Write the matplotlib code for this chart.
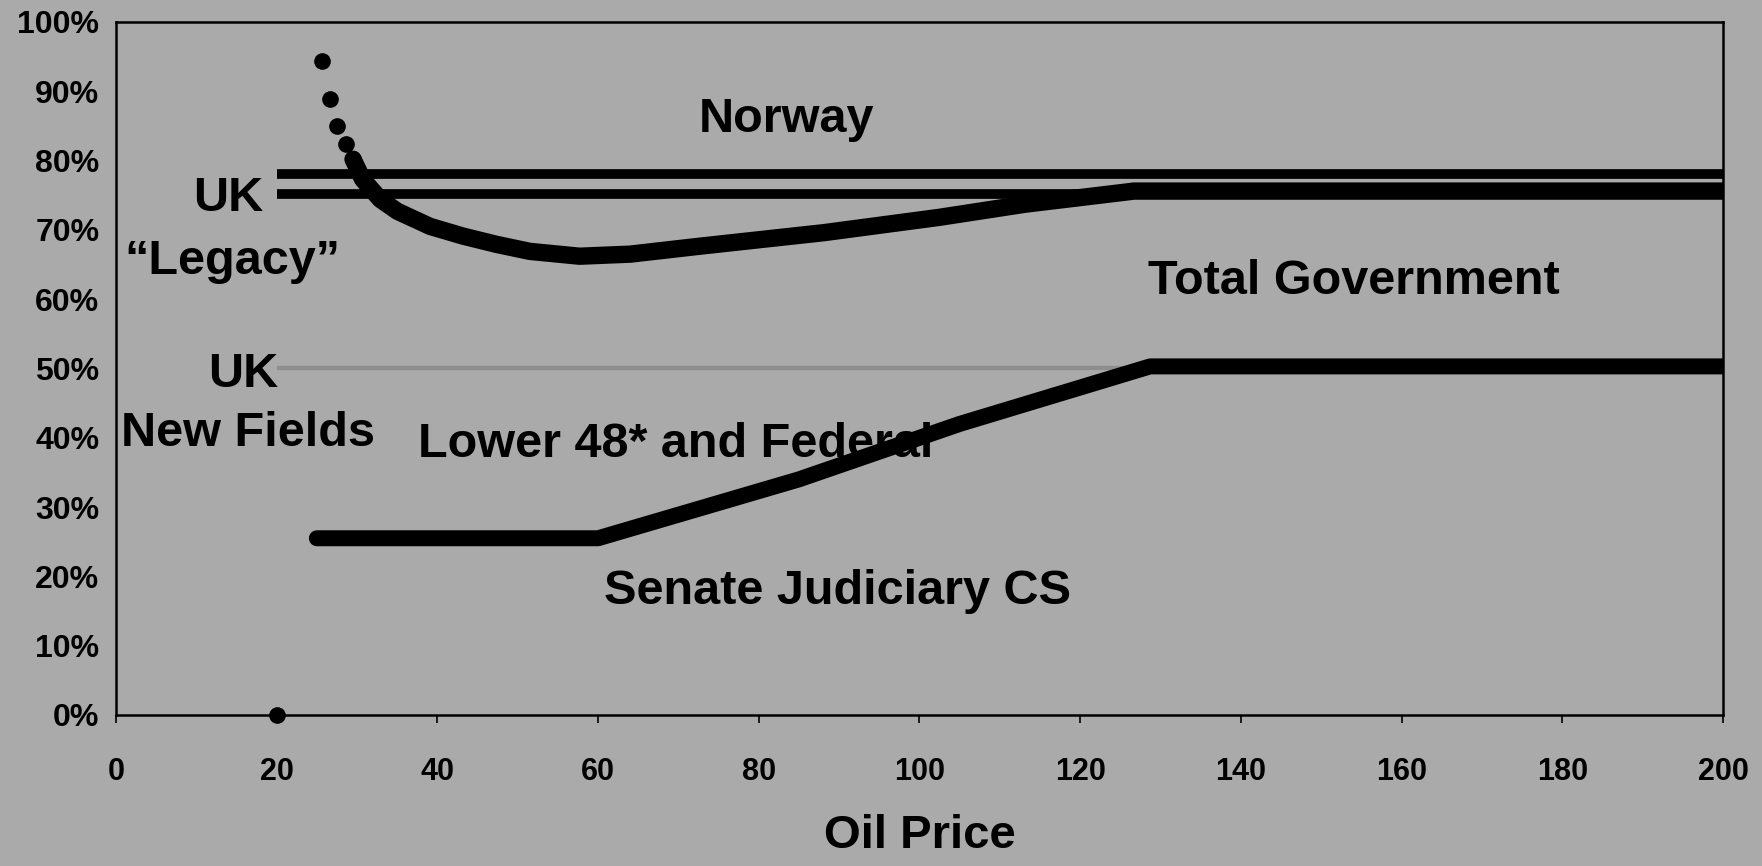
import matplotlib
matplotlib.use("Agg")
import matplotlib.pyplot as plt

# oil price ($) vs. government take (%)
norway_x = [20, 200]
norway_y = [78.0, 78.0]

uk_legacy_x = [20, 200]
uk_legacy_y = [75.2, 75.2]

uk_new_x = [20, 200]
uk_new_y = [50.0, 50.0]

# Total government take under the bill: single points at low price, then a dense curve
tg_dot_x = [20, 25.6, 26.6, 27.5, 28.6, 29.5]
tg_dot_y = [0.0, 94.4, 88.9, 85.0, 82.4, 80.2]
tg_curve_x = [29.5, 30.7, 32.9, 35.0, 39.1, 43.2, 47.4, 51.5, 57.7, 64.0, 72.3, 88.1, 102.4, 113.1, 126.7, 200]
tg_curve_y = [80.2, 77.3, 74.4, 72.7, 70.5, 69.1, 67.9, 66.9, 66.2, 66.5, 67.6, 69.6, 71.8, 73.7, 75.6, 75.6]

# Senate Judiciary CS (lower line)
sj_x = [25, 60, 85, 105, 128.7, 200]
sj_y = [25.5, 25.5, 34.0, 42.0, 50.3, 50.3]

x_ticks = [0, 20, 40, 60, 80, 100, 120, 140, 160, 180, 200]
y_ticks = [0, 10, 20, 30, 40, 50, 60, 70, 80, 90, 100]
y_tick_labels = ["0%", "10%", "20%", "30%", "40%", "50%", "60%", "70%", "80%", "90%", "100%"]

bg = "#aaaaaa"
plt.rcParams["font.family"] = ["Liberation Sans", "DejaVu Sans"]
plt.rcParams["font.weight"] = "bold"

fig = plt.figure(figsize=(17.62, 8.66), dpi=100, facecolor=bg)
ax = fig.add_axes([0.0658, 0.1744, 0.9121, 0.8002])
ax.set_facecolor(bg)

ax.plot(uk_new_x, uk_new_y, color="#8e8e8e", lw=3, solid_capstyle="butt")
ax.plot(norway_x, norway_y, color="black", lw=7, solid_capstyle="butt")
ax.plot(uk_legacy_x, uk_legacy_y, color="black", lw=7, solid_capstyle="butt")
ax.plot(tg_curve_x, tg_curve_y, color="black", lw=12.5, solid_capstyle="round",
        solid_joinstyle="round")
ax.plot(tg_dot_x, tg_dot_y, "o", color="black", ms=12, mec="none", clip_on=False)
ax.plot(sj_x, sj_y, color="black", lw=11.5, solid_capstyle="round")

ax.set_xlim(0, 200)
ax.set_ylim(0, 100)
ax.set_xticks(x_ticks)
ax.set_xticklabels([str(v) for v in x_ticks], fontsize=22, fontweight="bold")
ax.set_yticks(y_ticks)
ax.set_yticklabels(y_tick_labels, fontsize=23, fontweight="bold")
ax.tick_params(axis="y", length=0, pad=12)
ax.tick_params(axis="x", length=6, width=1.2, direction="out", pad=24)
for s in ax.spines.values():
    s.set_linewidth(1.8)
    s.set_color("black")

ax.set_xlabel("Oil Price", fontsize=34, fontweight="bold", labelpad=20)

lab = dict(fontsize=35, fontweight="bold", color="black")
ax.text(83.5, 86.0, "Norway", ha="center", va="center", **lab)
ax.text(14.0, 74.5, "UK", ha="center", va="center", **lab)
ax.text(14.5, 65.4, "\u201cLegacy\u201d", ha="center", va="center", **lab)
ax.text(15.9, 49.2, "UK", ha="center", va="center", **lab)
ax.text(16.4, 40.6, "New Fields", ha="center", va="center", **lab)
ax.text(37.6, 39.0, "Lower 48* and Federal", ha="left", va="center", **lab)
ax.text(154.1, 62.6, "Total Government", ha="center", va="center", **lab)
ax.text(89.8, 17.8, "Senate Judiciary CS", ha="center", va="center", **lab)

fig.savefig("out.png", dpi=100, facecolor=bg)
